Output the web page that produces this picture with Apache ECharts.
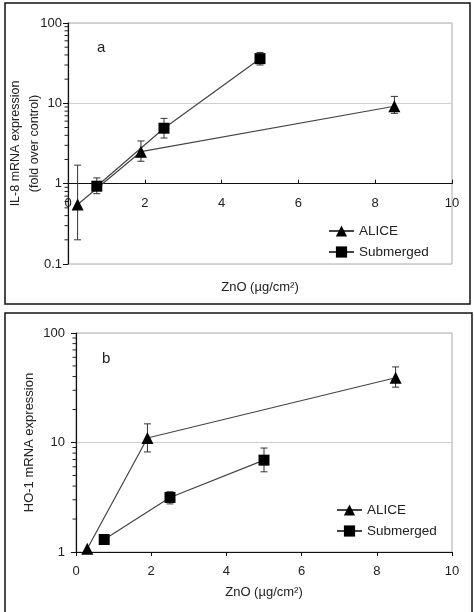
<!DOCTYPE html>
<html style="height: 100%">
<head>
    <meta charset="utf-8" />
    <title>ZnO IL-8 / HO-1</title>
    <script src="https://cdn.jsdelivr.net/npm/echarts@6/dist/echarts.min.js"></script>
</head>
<body style="height: 100%; margin: 0; overflow: hidden; background: #fff">
    <div id="container" style="width: 474px; height: 612px"></div>
    <script>
        // panel a - IL-8
        var aliceA_x = [0.25, 1.9, 8.5];
        var aliceA_y = [0.55, 2.5, 9.2];
        var aliceA_lo = [0.2, 1.9, 7.5];
        var aliceA_hi = [1.7, 3.4, 12.2];
        var subA_x = [0.75, 2.5, 5];
        var subA_y = [0.93, 4.9, 36];
        var subA_lo = [0.75, 3.7, 30];
        var subA_hi = [1.18, 6.5, 43];
        // panel b - HO-1
        var aliceB_x = [0.3, 1.9, 8.5];
        var aliceB_y = [1.07, 11, 39];
        var aliceB_lo = [1.07, 8.2, 32];
        var aliceB_hi = [1.07, 14.8, 49];
        var subB_x = [0.75, 2.5, 5];
        var subB_y = [1.3, 3.15, 6.9];
        var subB_lo = [1.3, 2.75, 5.4];
        var subB_hi = [1.3, 3.55, 8.9];

        var xTicks = [0, 2, 4, 6, 8, 10];
        var yTicksA = [0.1, 1, 10, 100];
        var yTicksB = [1, 10, 100];

        var font = "'Liberation Sans', Arial, sans-serif";
        var ink = '#222';

        var dom = document.getElementById("container");
        var myChart = echarts.init(dom, null, { renderer: "canvas" });

        let pts = (xs, ys) => xs.map((x, i) => [x, ys[i]]);
        let bars = (xs, lo, hi) => xs.map((x, i) => [x, lo[i], hi[i]]);
        let minorVals = (from, to) => {
            let out = [];
            for (let d = from; d < to; d *= 10)
                for (let k = 2; k <= 9; k++) out.push([0, +(d * k).toPrecision(3)]);
            return out;
        };

        let errItem = (params, api) => {
            let x = api.value(0), lo = api.value(1), hi = api.value(2);
            if (lo === hi) return null;
            let p1 = api.coord([x, hi]), p2 = api.coord([x, lo]);
            let w = 3.5, st = { stroke: '#333', lineWidth: 1 };
            return {
                type: 'group', children: [
                    { type: 'line', shape: { x1: p1[0], y1: p1[1], x2: p2[0], y2: p2[1] }, style: st },
                    { type: 'line', shape: { x1: p1[0] - w, y1: p1[1], x2: p1[0] + w, y2: p1[1] }, style: st },
                    { type: 'line', shape: { x1: p2[0] - w, y1: p2[1], x2: p2[0] + w, y2: p2[1] }, style: st }
                ]
            };
        };
        let tickItem = (params, api) => {
            let p = api.coord([0, api.value(1)]);
            return { type: 'line', shape: { x1: p[0] - 3.5, y1: p[1], x2: p[0], y2: p[1] }, style: { stroke: '#222', lineWidth: 1 } };
        };

        let lineSeries = (name, data, xi, yi, symbol, size) => ({
            type: 'line', name: name, data: data, xAxisIndex: xi, yAxisIndex: yi,
            symbol: symbol, symbolSize: size, z: 5,
            lineStyle: { color: '#444', width: 1.2 },
            itemStyle: { color: '#000' }
        });
        let errSeries = (data, xi, yi) => ({
            type: 'custom', data: data, xAxisIndex: xi, yAxisIndex: yi, z: 3,
            renderItem: errItem, silent: true, clip: false
        });
        let minorSeries = (data, xi, yi) => ({
            type: 'custom', data: data, xAxisIndex: xi, yAxisIndex: yi, z: 3,
            renderItem: tickItem, silent: true, clip: false
        });

        let baseX = (grid) => ({
            type: 'value', gridIndex: grid, min: 0, max: 10, interval: 2,
            splitLine: { show: false },
            axisLine: { lineStyle: { color: '#111', width: 1.2 } },
            axisTick: { length: 4, lineStyle: { color: '#111' } },
            axisLabel: { fontFamily: font, fontSize: 13, color: ink }
        });

        let option = {
            animation: false,
            backgroundColor: '#fff',
            graphic: [
                { type: 'rect', shape: { x: 5, y: 3, width: 465, height: 301 }, style: { fill: 'none', stroke: '#111', lineWidth: 1.5 } },
                { type: 'rect', shape: { x: 5, y: 313, width: 467, height: 320 }, style: { fill: 'none', stroke: '#111', lineWidth: 1.5 } },
                { type: 'text', left: 97, top: 40, style: { text: 'a', font: '15px ' + font, fill: ink } },
                { type: 'text', left: 102, top: 351, style: { text: 'b', font: '15px ' + font, fill: ink } }
            ],
            grid: [
                { left: 68, top: 23, width: 384, height: 241, show: true, borderColor: '#aaa', borderWidth: 1, outerBoundsMode: 'none', containLabel: false },
                { left: 76, top: 333, width: 376, height: 219, show: true, borderColor: '#aaa', borderWidth: 1, outerBoundsMode: 'none', containLabel: false }
            ],
            legend: [
                {
                    orient: 'vertical', left: 323, top: 219, itemWidth: 25, itemHeight: 14, itemGap: 7,
                    data: ['ALICE', 'Submerged'],
                    textStyle: { fontFamily: font, fontSize: 13.5, color: ink }
                },
                {
                    orient: 'vertical', left: 331, top: 498, itemWidth: 25, itemHeight: 14, itemGap: 7,
                    data: ['ALICE', 'Submerged'],
                    textStyle: { fontFamily: font, fontSize: 13.5, color: ink }
                }
            ],
            xAxis: [
                // panel a: axis drawn at y = 1
                Object.assign(baseX(0), {
                    offset: -241 / 3,
                    axisTick: { inside: true, length: 4, lineStyle: { color: '#111' } },
                    axisLabel: { fontFamily: font, fontSize: 13, color: ink, margin: 13 }
                }),
                {
                    type: 'value', gridIndex: 0, min: 0, max: 10, position: 'bottom',
                    axisLine: { show: false }, axisTick: { show: false }, axisLabel: { show: false },
                    splitLine: { show: false },
                    name: 'ZnO (µg/cm²)', nameLocation: 'middle', nameGap: 17,
                    nameTextStyle: { fontFamily: font, fontSize: 13, color: ink }
                },
                Object.assign(baseX(1), {
                    axisLabel: { fontFamily: font, fontSize: 13, color: ink, margin: 13 },
                    name: 'ZnO (µg/cm²)', nameLocation: 'middle', nameGap: 34, nameMoveOverlap: false,
                    nameTextStyle: { fontFamily: font, fontSize: 13, color: ink }
                })
            ],
            yAxis: [
                {
                    type: 'log', gridIndex: 0, min: yTicksA[0], max: yTicksA[yTicksA.length - 1], logBase: 10,
                    axisLine: { show: true, lineStyle: { color: '#111', width: 1.2 } },
                    axisTick: { show: true, length: 5, lineStyle: { color: '#111' } },
                    axisLabel: { fontFamily: font, fontSize: 13, color: ink, margin: 6 },
                    splitLine: { show: true, lineStyle: { color: '#d0d0d0', width: 1 } },
                    name: 'IL-8 mRNA expression\n(fold over control)', nameLocation: 'middle', nameGap: 24,
                    nameMoveOverlap: false,
                    nameTextStyle: { fontFamily: font, fontSize: 12.5, color: ink, lineHeight: 19 }
                },
                {
                    type: 'log', gridIndex: 1, min: yTicksB[0], max: yTicksB[yTicksB.length - 1], logBase: 10,
                    axisLine: { show: true, lineStyle: { color: '#111', width: 1.2 } },
                    axisTick: { show: true, length: 5, lineStyle: { color: '#111' } },
                    axisLabel: { fontFamily: font, fontSize: 13, color: ink, margin: 11 },
                    splitLine: { show: true, lineStyle: { color: '#d0d0d0', width: 1 } },
                    name: 'HO-1 mRNA expression', nameLocation: 'middle', nameGap: 40,
                    nameMoveOverlap: false,
                    nameTextStyle: { fontFamily: font, fontSize: 13, color: ink }
                }
            ],
            series: [
                minorSeries(minorVals(0.1, 100), 0, 0),
                minorSeries(minorVals(1, 100), 2, 1),
                errSeries(bars(aliceA_x, aliceA_lo, aliceA_hi), 0, 0),
                errSeries(bars(subA_x, subA_lo, subA_hi), 0, 0),
                lineSeries('ALICE', pts(aliceA_x, aliceA_y), 0, 0, 'triangle', 12),
                lineSeries('Submerged', pts(subA_x, subA_y), 0, 0, 'rect', 11),
                errSeries(bars(aliceB_x, aliceB_lo, aliceB_hi), 2, 1),
                errSeries(bars(subB_x, subB_lo, subB_hi), 2, 1),
                lineSeries('ALICE', pts(aliceB_x, aliceB_y), 2, 1, 'triangle', 12),
                lineSeries('Submerged', pts(subB_x, subB_y), 2, 1, 'rect', 11)
            ]
        };
        myChart.setOption(option);
        window.addEventListener("resize", myChart.resize);
    </script>
</body>
</html>
